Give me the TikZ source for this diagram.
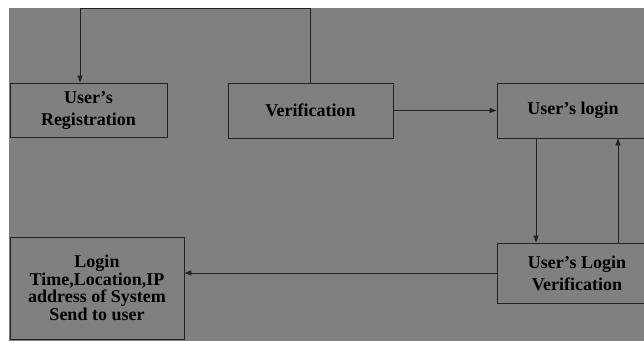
\documentclass[tikz,border=0pt]{standalone}
\usepackage{fontspec}
\setmainfont{Liberation Serif}
\usetikzlibrary{arrows.meta}
\definecolor{panel}{HTML}{808080}
\definecolor{boxline}{HTML}{222222}

\begin{document}
\begin{tikzpicture}[
x=1pt, y=-1pt,
box/.style={
    draw=boxline,
    line width=0.9pt,
    inner sep=2pt,
    align=center,
    text=black,
    font=\fontsize{18}{22}\selectfont\bfseries
},
link/.style={draw=boxline, line width=0.9pt},
>={Triangle[length=7pt,width=5pt]}
]
\useasboundingbox (0,0) rectangle (644,341);
\clip (0,0) rectangle (644,341);
\fill[white] (0,0) rectangle (644,341);
\fill[panel] (9,8) rectangle (644,341);

\node[box, minimum width=157pt, minimum height=54pt] (reg) at (88.5,110)
{User’s\\Registration};

\node[box, minimum width=165pt, minimum height=55pt] (verif) at (310.5,110.5)
{Verification};

\node[box, minimum width=152pt, minimum height=55pt] (login) at (573,110.5)
{User’s login};

\node[box, minimum width=160pt, minimum height=60pt] (loginver) at (577,273)
{User’s Login\\Verification};

\node[box, minimum width=174pt, minimum height=102pt,
      font=\fontsize{18}{17.5}\selectfont\bfseries] (info) at (97,288)
{Login\\Time,Location,IP\\address of System\\Send to user};

\coordinate (roof) at (0,8);

\draw[link,->] (verif.north) -- (verif.north |- roof) -| ([xshift=-8.5pt]reg.north);
\draw[link,->] (verif) -- (login);
\draw[link,->] ([xshift=-37pt]login.south) -- ([xshift=-37pt]login.south |- loginver.north);
\draw[link,->] ([xshift=41pt]loginver.north) -- ([xshift=41pt]loginver.north |- login.south);
\draw[link,->] (loginver.west) -- (loginver.west -| info.east);

\end{tikzpicture}
\end{document}
